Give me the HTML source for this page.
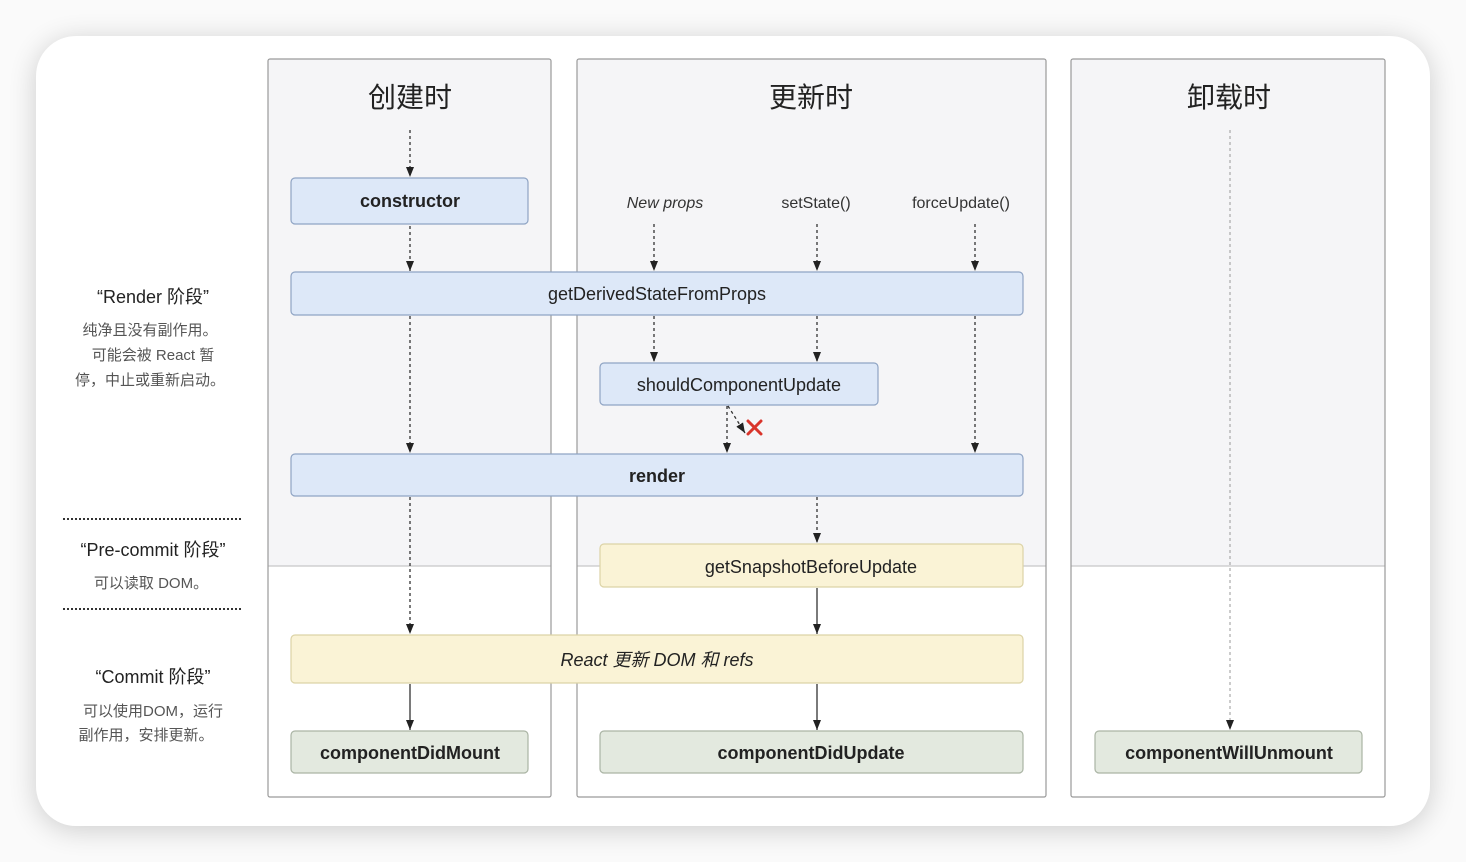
<!DOCTYPE html>
<html><head><meta charset="utf-8"><style>
html,body{margin:0;padding:0;background:#fff;}
svg{display:block;}
text{font-family:"Liberation Sans","Noto Sans CJK SC",sans-serif;}
</style></head><body>
<svg width="1466" height="862" viewBox="0 0 1466 862" xmlns="http://www.w3.org/2000/svg">
<defs>
<filter id="sh" x="-10%" y="-10%" width="120%" height="120%"><feGaussianBlur stdDeviation="14"/></filter>
<marker id="ar" markerWidth="10" markerHeight="8" refX="10" refY="4" orient="auto" markerUnits="userSpaceOnUse">
<path d="M0,0 L10,4 L0,8 Z" fill="#222"/></marker>
</defs>
<rect width="1466" height="862" fill="#fafafa"/>
<rect x="36" y="40" width="1394" height="790" rx="40" fill="#000" opacity="0.18" filter="url(#sh)"/>
<rect x="36" y="36" width="1394" height="790" rx="40" fill="#fff"/>

<g stroke="#9a9a9a" stroke-width="1.2">
<rect x="268" y="59" width="283" height="507" fill="#f5f5f7" stroke="none"/>
<rect x="577" y="59" width="469" height="507" fill="#f5f5f7" stroke="none"/>
<rect x="1071" y="59" width="314" height="507" fill="#f5f5f7" stroke="none"/>
<line x1="268" y1="566" x2="551" y2="566" stroke="#c8c8c8"/>
<line x1="577" y1="566" x2="1046" y2="566" stroke="#c8c8c8"/>
<line x1="1071" y1="566" x2="1385" y2="566" stroke="#c8c8c8"/>
<rect x="268" y="59" width="283" height="738" fill="none" rx="2"/>
<rect x="577" y="59" width="469" height="738" fill="none" rx="2"/>
<rect x="1071" y="59" width="314" height="738" fill="none" rx="2"/>
</g>

<g font-size="28" fill="#222" text-anchor="middle">
<text x="410" y="107">创建时</text>
<text x="811" y="107">更新时</text>
<text x="1229" y="107">卸载时</text>
</g>

<g stroke-width="1.2">
<rect x="291" y="178" width="237" height="46" rx="4" fill="#dde8f8" stroke="#8fa4c4"/>
<rect x="291" y="272" width="732" height="43" rx="4" fill="#dde8f8" stroke="#8fa4c4"/>
<rect x="600" y="363" width="278" height="42" rx="4" fill="#dde8f8" stroke="#8fa4c4"/>
<rect x="291" y="454" width="732" height="42" rx="4" fill="#dde8f8" stroke="#8fa4c4"/>
<rect x="600" y="544" width="423" height="43" rx="4" fill="#faf3d6" stroke="#dcd3a6"/>
<rect x="291" y="635" width="732" height="48" rx="4" fill="#faf3d6" stroke="#dcd3a6"/>
<rect x="291" y="731" width="237" height="42" rx="4" fill="#e3e9df" stroke="#aab4a4"/>
<rect x="600" y="731" width="423" height="42" rx="4" fill="#e3e9df" stroke="#aab4a4"/>
<rect x="1095" y="731" width="267" height="42" rx="4" fill="#e3e9df" stroke="#aab4a4"/>
</g>

<g font-size="18" fill="#222" text-anchor="middle">
<text x="410" y="207" font-weight="bold">constructor</text>
<text x="657" y="300">getDerivedStateFromProps</text>
<text x="739" y="391">shouldComponentUpdate</text>
<text x="657" y="482" font-weight="bold">render</text>
<text x="811" y="573">getSnapshotBeforeUpdate</text>
<text x="657" y="666" font-style="italic">React 更新 DOM 和 refs</text>
<text x="410" y="759" font-weight="bold">componentDidMount</text>
<text x="811" y="759" font-weight="bold">componentDidUpdate</text>
<text x="1229" y="759" font-weight="bold">componentWillUnmount</text>
</g>
<g font-size="16" fill="#333" text-anchor="middle">
<text x="665" y="208" font-style="italic">New props</text>
<text x="816" y="208">setState()</text>
<text x="961" y="208">forceUpdate()</text>
</g>

<g stroke="#333" stroke-width="1.3" fill="none" marker-end="url(#ar)">
<g stroke-dasharray="3,3">
<line x1="410" y1="130" x2="410" y2="177"/>
<line x1="410" y1="226" x2="410" y2="271"/>
<line x1="410" y1="316" x2="410" y2="453"/>
<line x1="410" y1="497" x2="410" y2="634"/>
<line x1="654" y1="224" x2="654" y2="271"/>
<line x1="654" y1="316" x2="654" y2="362"/>
<line x1="817" y1="224" x2="817" y2="271"/>
<line x1="817" y1="316" x2="817" y2="362"/>
<line x1="817" y1="497" x2="817" y2="543"/>
<line x1="975" y1="224" x2="975" y2="271"/>
<line x1="975" y1="316" x2="975" y2="453"/>
<line x1="727" y1="406" x2="727" y2="453"/>
<line x1="728" y1="406" x2="745" y2="433"/>
</g>
<line x1="410" y1="684" x2="410" y2="730"/>
<line x1="817" y1="588" x2="817" y2="634"/>
<line x1="817" y1="684" x2="817" y2="730"/>
<line x1="1230" y1="130" x2="1230" y2="730" stroke="#999" stroke-width="1" stroke-dasharray="3,3"/>
</g>
<g stroke="#d9342b" stroke-width="3" stroke-linecap="round">
<line x1="748" y1="421" x2="761" y2="434"/><line x1="761" y1="421" x2="748" y2="434"/>
</g>

<g text-anchor="middle" fill="#222">
<text x="153" y="303" font-size="18">“Render 阶段”</text>
<text x="150" y="335" font-size="15" fill="#555">纯净且没有副作用。</text>
<text x="153" y="360" font-size="15" fill="#555">可能会被 React 暂</text>
<text x="150" y="385" font-size="15" fill="#555">停，中止或重新启动。</text>
<text x="153" y="556" font-size="18">“Pre-commit 阶段”</text>
<text x="151" y="588" font-size="15" fill="#555">可以读取 DOM。</text>
<text x="153" y="683" font-size="18">“Commit 阶段”</text>
<text x="153" y="716" font-size="15" fill="#555">可以使用DOM，运行</text>
<text x="146" y="740" font-size="15" fill="#555">副作用，安排更新。</text>
</g>
<g stroke="#333" stroke-width="2" stroke-dasharray="2,2">
<line x1="63" y1="519" x2="243" y2="519"/>
<line x1="63" y1="609" x2="243" y2="609"/>
</g>
</svg>
</body></html>
